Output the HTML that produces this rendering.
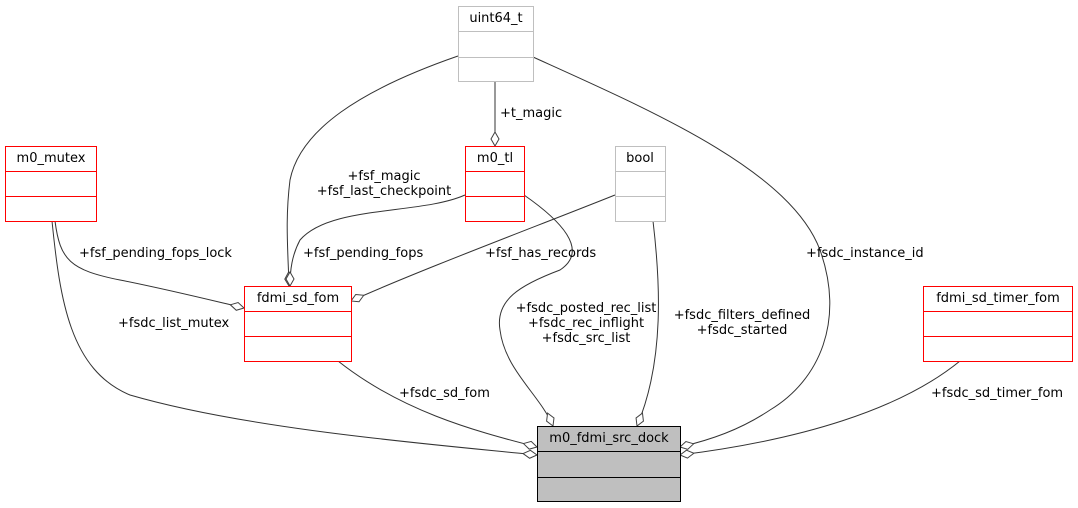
<!DOCTYPE html>
<html><head><meta charset="utf-8"><style>
html,body{margin:0;padding:0;background:#fff;}
svg{display:block;}
text{font-family:"DejaVu Sans","Liberation Sans",sans-serif;font-size:13px;fill:#000;}
</style></head><body>
<svg width="1078" height="508" viewBox="0 0 1078 508" xmlns="http://www.w3.org/2000/svg">
<defs>
<marker id="d" markerUnits="userSpaceOnUse" markerWidth="16" markerHeight="12" refX="15" refY="5" orient="auto">
<path d="M1,5 L8,1 L15,5 L8,9 Z" fill="#fff" stroke="#404040" stroke-width="1"/>
</marker>
</defs>
<g fill="none" stroke="#333" stroke-width="1">
<path d="M495,82 L495,146" marker-end="url(#d)"/>
<path d="M458,56 C360,90 300,130 290,180 C285,220 288,250 289,286" marker-end="url(#d)"/>
<path d="M465,195 C420,215 330,205 300,240 C292,255 290,270 290,286" marker-end="url(#d)"/>
<path d="M55,221 C60,260 70,270 120,280 C170,290 210,300 244,308" marker-end="url(#d)"/>
<path d="M615,195 C540,225 420,270 351,301" marker-end="url(#d)"/>
<path d="M52,221 C60,300 70,370 130,395 C250,430 440,445 537,455" marker-end="url(#d)"/>
<path d="M338,361 C400,410 470,430 537,447" marker-end="url(#d)"/>
<path d="M524,195 C560,220 590,250 560,270 C520,285 495,300 500,330 C505,370 540,395 553,426" marker-end="url(#d)"/>
<path d="M653,221 C660,280 665,360 637,426" marker-end="url(#d)"/>
<path d="M533,57 C650,110 790,170 820,250 C845,320 820,380 770,410 C740,430 710,440 680,447" marker-end="url(#d)"/>
<path d="M960,361 C900,410 800,440 680,455" marker-end="url(#d)"/>
</g>
<g stroke-width="1">
<rect x="458.5" y="6.5" width="75" height="75" fill="#fff" stroke="#bfbfbf"/>
<path d="M458.5,31.5H533.5M458.5,57.5H533.5" stroke="#bfbfbf"/>
<rect x="5.5" y="146.5" width="91" height="75" fill="#fff" stroke="#ff0000"/>
<path d="M5.5,171.5H96.5M5.5,196.5H96.5" stroke="#ff0000"/>
<rect x="465.5" y="146.5" width="59" height="75" fill="#fff" stroke="#ff0000"/>
<path d="M465.5,171.5H524.5M465.5,196.5H524.5" stroke="#ff0000"/>
<rect x="615.5" y="146.5" width="50" height="75" fill="#fff" stroke="#bfbfbf"/>
<path d="M615.5,171.5H665.5M615.5,196.5H665.5" stroke="#bfbfbf"/>
<rect x="244.5" y="286.5" width="107" height="75" fill="#fff" stroke="#ff0000"/>
<path d="M244.5,311.5H351.5M244.5,336.5H351.5" stroke="#ff0000"/>
<rect x="923.5" y="286.5" width="149" height="75" fill="#fff" stroke="#ff0000"/>
<path d="M923.5,311.5H1072.5M923.5,336.5H1072.5" stroke="#ff0000"/>
<rect x="537.5" y="426.5" width="143" height="75" fill="#bfbfbf" stroke="#000"/>
<path d="M537.5,451.5H680.5M537.5,477.5H680.5" stroke="#000"/>
</g>
<g text-anchor="middle">
<text x="496" y="22">uint64_t</text>
<text x="51" y="162">m0_mutex</text>
<text x="495" y="162">m0_tl</text>
<text x="640" y="162">bool</text>
<text x="298" y="302">fdmi_sd_fom</text>
<text x="998" y="302">fdmi_sd_timer_fom</text>
<text x="609" y="442">m0_fdmi_src_dock</text>
<text x="586" y="312">+fsdc_posted_rec_list</text>
<text x="586" y="327">+fsdc_rec_inflight</text>
<text x="586" y="342">+fsdc_src_list</text>
<text x="742" y="319">+fsdc_filters_defined</text>
<text x="742" y="334">+fsdc_started</text>
<text x="384" y="180">+fsf_magic</text>
<text x="384" y="195">+fsf_last_checkpoint</text>
</g>
<text x="500" y="117">+t_magic</text>
<text x="303" y="257">+fsf_pending_fops</text>
<text x="79" y="257">+fsf_pending_fops_lock</text>
<text x="485" y="257">+fsf_has_records</text>
<text x="806" y="257">+fsdc_instance_id</text>
<text x="118" y="327">+fsdc_list_mutex</text>
<text x="399" y="397">+fsdc_sd_fom</text>
<text x="931" y="397">+fsdc_sd_timer_fom</text>
</svg>
</body></html>
